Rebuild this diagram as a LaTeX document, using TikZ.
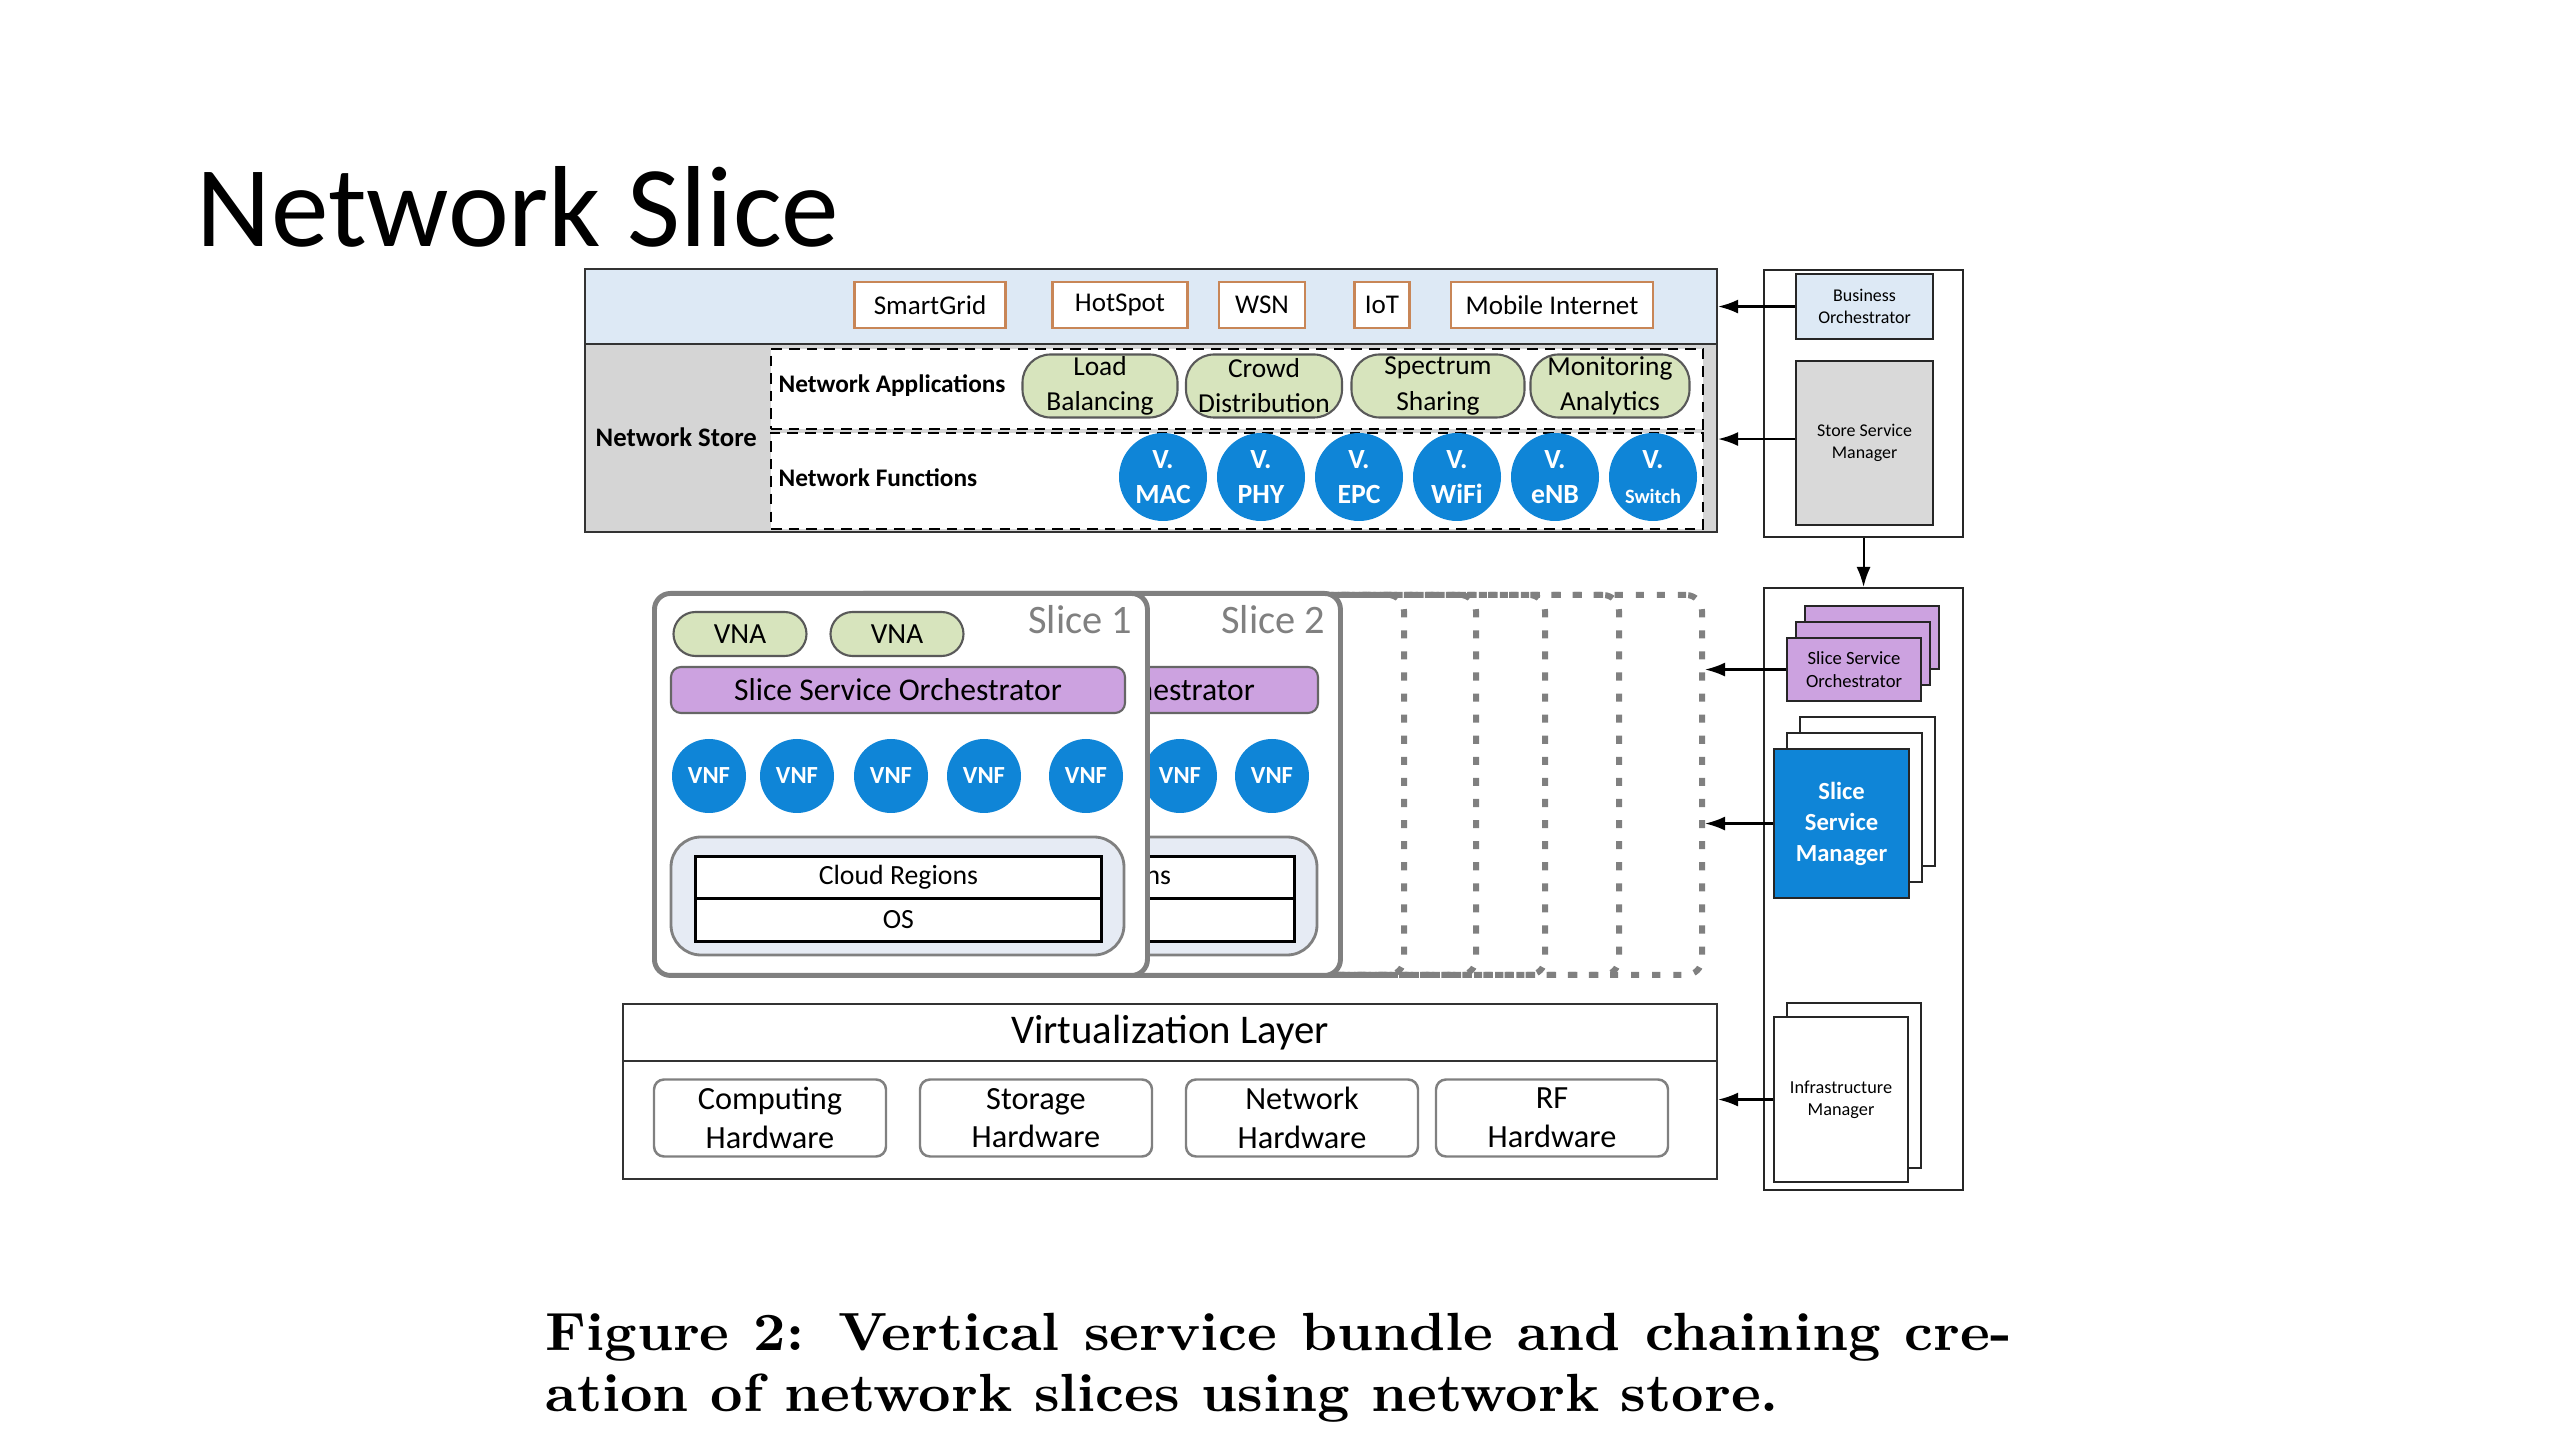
\documentclass[tikz,border=0pt]{standalone}
\usepackage{fontspec}
\usepackage{tikz}
\usepackage{xcolor}
\usetikzlibrary{shapes, arrows.meta, calc, positioning}
\newfontfamily\calib{Carlito}
\newfontfamily\capfont{lmroman10-bold.otf}[FakeStretch=1.05]
\definecolor{nsband}{rgb}{0.867, 0.914, 0.961}
\definecolor{nsgrey}{rgb}{0.835, 0.835, 0.835}
\definecolor{nsorange}{rgb}{0.784, 0.525, 0.341}
\definecolor{nsolive}{rgb}{0.843, 0.894, 0.741}
\definecolor{nsblue}{rgb}{0.059, 0.522, 0.843}
\definecolor{nslilac}{rgb}{0.800, 0.635, 0.878}
\definecolor{nscloud}{rgb}{0.902, 0.922, 0.957}
\definecolor{nsslice}{rgb}{0.502, 0.502, 0.502}

\begin{document}
\begin{tikzpicture}[x=0.1mm, y=-0.1mm, every node/.style={inner sep=0pt, font=\calib},
        frame/.style={draw=black!80, line width=0.6pt, anchor=north west},
        apptag/.style={draw=nsorange, fill=white, line width=0.8pt, minimum height=4.6mm, font=\calib\fontsize{7.7}{9}\selectfont},
        olive/.style={draw=black!65, fill=nsolive, line width=0.6pt, rounded corners=2.8mm, align=center},
        vfun/.style={circle, fill=nsblue, text=white, minimum size=8.8mm, align=center, font=\calib\bfseries\fontsize{7.9}{10}\selectfont},
        vnf/.style={circle, fill=nsblue, text=white, minimum size=7.4mm, font=\calib\bfseries\fontsize{7}{8}\selectfont},
        mgr/.style={draw=black!85, line width=0.6pt, anchor=north west, align=center, font=\calib\fontsize{5.1}{6.2}\selectfont},
        ghost/.style={draw=black!50, line width=1.7pt, dash pattern=on 2.3pt off 3.7pt, rounded corners=1.6mm, anchor=north east, minimum width=49.3mm, minimum height=38mm},
        slicebox/.style={draw=nsslice, fill=white, line width=1.4pt, rounded corners=1.6mm, anchor=north west, minimum width=49.3mm, minimum height=38.2mm},
        hwbox/.style={draw=black!50, fill=white, line width=0.7pt, rounded corners=1mm, minimum width=23.2mm, minimum height=7.7mm, align=center, font=\calib\fontsize{9.2}{11}\selectfont},
        link/.style={draw=black, line width=0.6pt, -{Latex[length=2mm, width=1.4mm]}}]

    \useasboundingbox[fill=white] (0,0) rectangle (2560,1440);

    \node[anchor=base west, font=\calib\fontsize{32.8}{38}\selectfont] (title) at (196,247) {Network Slice};

    % network store
    \node[frame, fill=nsgrey, minimum width=113.2mm, minimum height=18.8mm] (store) at (584,343) {};
    \node[frame, fill=nsband, minimum width=113.2mm, minimum height=7.5mm] (band) at (584,268) {};
    \foreach \name/\cx/\w [count=\i] in {SmartGrid/930/151, HotSpot/1120/135, WSN/1262/86, IoT/1382/55, Mobile Internet/1552/202}{
        \node[apptag, minimum width=\w*0.1mm] (app\i) at (\cx,305) {\name};
    }
    \node[frame, draw=black, densely dashed, fill=white, minimum width=93.2mm, minimum height=8mm] (apps) at (770,348) {};
    \node[frame, draw=black, densely dashed, fill=white, minimum width=93.2mm, minimum height=9.6mm] (funcs) at (770,432) {};
    \node[anchor=west, font=\calib\bfseries\fontsize{7.6}{9}\selectfont] (storelab) at (595,437) {Network Store};
    \node[anchor=west, font=\calib\bfseries\fontsize{7.2}{9}\selectfont] (appslab) at (778,386) {Network Applications};
    \node[anchor=west, font=\calib\bfseries\fontsize{7.2}{9}\selectfont] (funcslab) at (778,478) {Network Functions};

    \foreach \lab/\cx/\w [count=\i] in {Load\\Balancing/1100/155, Crowd\\Distribution/1264/156, Spectrum\\Sharing/1438/173, Monitoring\\Analytics/1610/159}{
        \node[olive, minimum width=\w*0.1mm, minimum height=6.3mm, font=\calib\fontsize{7.8}{10}\selectfont] (na\i) at (\cx,386) {\lab};
    }
    \foreach \lab [count=\i] in {MAC, PHY, EPC, WiFi, eNB, {\fontsize{5.8}{7}\selectfont Switch}}{
        \node[vfun] (vf\i) at ({1065+98*\i},477) {V.\\\lab};
    }

    % management column
    \node[mgr, fill=white, minimum width=19.9mm, minimum height=26.7mm] (mgmtA) at (1763,269) {};
    \node[mgr, fill=nsband, minimum width=13.7mm, minimum height=6.5mm] (biz) at (1795,273) {Business\\Orchestrator};
    \node[mgr, fill=black!15, minimum width=13.7mm, minimum height=16.4mm] (ssmgr) at (1795,360) {Store Service\\Manager};
    \node[mgr, fill=white, minimum width=19.9mm, minimum height=60.2mm] (mgmtB) at (1763,587) {};

    \node[mgr, fill=nslilac, minimum width=13.4mm, minimum height=6.3mm] (ssoC) at (1804,605) {};
    \node[mgr, fill=nslilac, minimum width=13.4mm, minimum height=6.3mm] (ssoB) at (1795,621) {};
    \node[mgr, fill=nslilac, minimum width=13.4mm, minimum height=6.3mm, font=\calib\fontsize{5.3}{6.4}\selectfont] (sso) at (1786,637) {Slice Service\\Orchestrator};

    \node[mgr, fill=white, minimum width=13.5mm, minimum height=14.9mm] (smC) at (1799,716) {};
    \node[mgr, fill=white, minimum width=13.5mm, minimum height=14.9mm] (smB) at (1786,732) {};
    \node[mgr, fill=nsblue, text=white, minimum width=13.5mm, minimum height=14.9mm, font=\calib\bfseries\fontsize{7}{8.8}\selectfont] (sm) at (1773,748) {Slice\\Service\\Manager};

    \node[mgr, fill=white, minimum width=13.4mm, minimum height=16.5mm] (infraB) at (1786,1002) {};
    \node[mgr, fill=white, minimum width=13.4mm, minimum height=16.5mm, font=\calib\fontsize{5.2}{6.3}\selectfont] (infra) at (1773,1016) {Infrastructure\\Manager};

    % slices
    \foreach \r in {1705,1622,1548,1479,1407}{
        \node[ghost] (ghost\r) at (\r,592) {};
    }
    \foreach \s/\dx/\vlist in {2/19.3mm/{987,1079}, 1/0mm/{709,797,891,984,1086}}{
        \begin{scope}[xshift=\dx]
            \node[slicebox] (slice\s) at (652,591) {};
            \node[anchor=east, text=nsslice, font=\calib\fontsize{11.5}{13}\selectfont] (slicelab\s) at (1133,620) {Slice \s};
            \ifnum\s=1
            \node[olive, rounded corners=2.2mm, minimum width=13.3mm, minimum height=4.4mm, font=\calib\fontsize{8.3}{10}\selectfont] (vnaA\s) at (740,634) {VNA};
            \node[olive, rounded corners=2.2mm, minimum width=13.3mm, minimum height=4.4mm, font=\calib\fontsize{8.3}{10}\selectfont] (vnaB\s) at (897,634) {VNA};
            \fi
            \node[draw=black!60, fill=nslilac, line width=0.6pt, rounded corners=1mm, minimum width=45.4mm, minimum height=4.6mm, font=\calib\fontsize{9}{11}\selectfont] (orch\s) at (898,690) {Slice Service Orchestrator};
            \foreach \vx [count=\k] in \vlist{
                \node[vnf] (vnf\s\k) at (\vx,776) {VNF};
            }
            \node[draw=black!50, fill=nscloud, line width=0.8pt, rounded corners=3mm, minimum width=45.3mm, minimum height=11.8mm] (cloud\s) at (897.5,896) {};
            \node[frame, draw=black, fill=white, line width=0.8pt, minimum width=40.6mm, minimum height=4.2mm, font=\calib\fontsize{7.9}{9}\selectfont] (region\s) at (694,855) {Cloud Regions};
            \node[frame, draw=black, fill=white, line width=0.8pt, minimum width=40.6mm, minimum height=4.3mm, font=\calib\fontsize{7.9}{9}\selectfont] (os\s) at (694,897) {OS};
        \end{scope}
    }

    % virtualization and hardware
    \node[frame, fill=white, minimum width=109.4mm, minimum height=5.7mm, font=\calib\fontsize{11.6}{13}\selectfont] (virt) at (622,1003) {Virtualization Layer};
    \node[frame, fill=white, minimum width=109.4mm, minimum height=11.8mm] (hw) at (622,1060) {};
    \foreach \lab/\cx [count=\i] in {Computing/770, Storage/1036, Network/1302, RF/1552}{
        \node[hwbox] (hw\i) at (\cx,1118) {\lab\\Hardware};
    }

    % connectors
    \draw[link] (biz.west) -- (biz.west -| band.east);
    \draw[link] ([yshift=0.4mm]ssmgr.west) -- ([yshift=0.4mm]ssmgr.west -| store.east);
    \draw[link] (mgmtA.south) -- (mgmtB.north);
    \draw[link] (sso.west) -- (sso.west -| ghost1705.east);
    \draw[link] (sm.west) -- (sm.west -| ghost1705.east);
    \draw[link] (infra.west) -- (infra.west -| hw.east);

    \node[anchor=north west, text width=146.6mm, align=justify, font=\capfont\fontsize{15.3}{17.6}\selectfont] (caption) at (545,1312)
        {\noindent Figure 2: Vertical service bundle and chaining cre-\linebreak ation of network slices using network store.};
\end{tikzpicture}
\end{document}
